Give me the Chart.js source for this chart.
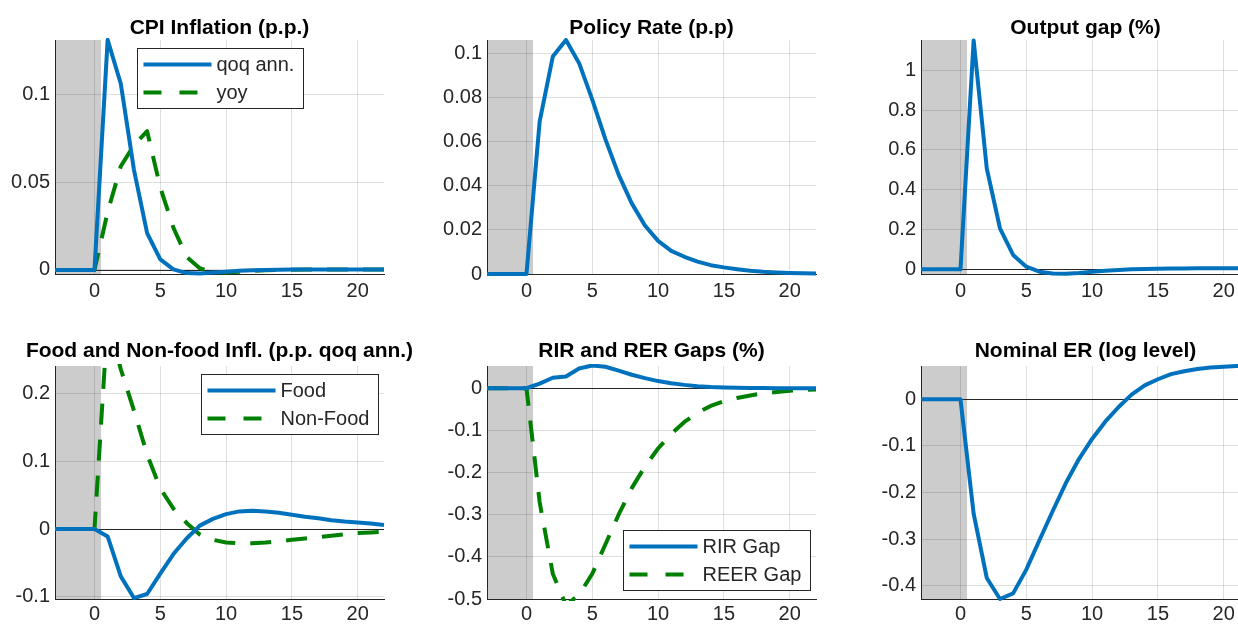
<!DOCTYPE html>
<html>
<head>
<meta charset="utf-8">
<script src="https://cdn.jsdelivr.net/npm/chart.js@4.4.1/dist/chart.umd.min.js"></script>
<style>
  html, body { margin: 0; padding: 0; background: #fff; width: 1238px; height: 627px; overflow: hidden; }
  canvas { position: absolute; }
</style>
</head>
<body>
<canvas id="cpi"    width="439" height="309" style="left:0px;   top:0px"></canvas>
<canvas id="policy" width="439" height="309" style="left:432px; top:0px"></canvas>
<canvas id="gap"    width="439" height="309" style="left:866px; top:0px"></canvas>
<canvas id="food"   width="439" height="308" style="left:0px;   top:326px"></canvas>
<canvas id="rer"    width="439" height="308" style="left:432px; top:326px"></canvas>
<canvas id="ner"    width="439" height="308" style="left:866px; top:326px"></canvas>
<script>
// Quarters after the shock
const periods = [-3, -2, -1, 0, 1, 2, 3, 4, 5, 6, 7, 8, 9, 10, 11, 12, 13, 14, 15, 16, 17, 18, 19, 20, 21, 22];

// Impulse responses
const cpiQoq   = [0, 0, 0, 0, 0.131, 0.106, 0.057, 0.021, 0.006, 0.0003, -0.0018, -0.002, -0.0015, -0.001, -0.0005, -0.0002, 0, 0.0001, 0.0002, 0.0002, 0.0002, 0.0002, 0.0002, 0.0002, 0.0002, 0.0002];
const cpiYoy   = [0, 0, 0, 0, 0.033, 0.059, 0.071, 0.079, 0.047, 0.024, 0.0075, 0.001, -0.0012, -0.0015, -0.001, -0.0006, -0.0002, 0, 0.0001, 0.0002, 0.0002, 0.0002, 0.0002, 0.0002, 0.0002, 0.0002];
const policyRate = [0, 0, 0, 0, 0.069, 0.0985, 0.106, 0.0955, 0.079, 0.061, 0.045, 0.032, 0.022, 0.015, 0.0105, 0.0078, 0.0056, 0.004, 0.003, 0.0022, 0.0015, 0.001, 0.0007, 0.0005, 0.0003, 0.0002];
const outputGap  = [0, 0, 0, 0, 1.15, 0.506, 0.206, 0.072, 0.013, -0.012, -0.021, -0.022, -0.018, -0.012, -0.007, -0.003, 0, 0.002, 0.003, 0.004, 0.0045, 0.005, 0.005, 0.005, 0.005, 0.005];
const foodInfl    = [0, 0, 0, 0, -0.011, -0.070, -0.102, -0.096, -0.066, -0.037, -0.014, 0.005, 0.015, 0.022, 0.026, 0.027, 0.026, 0.024, 0.021, 0.018, 0.016, 0.013, 0.011, 0.0095, 0.008, 0.006];
const nonFoodInfl = [0, 0, 0, 0, 0.31, 0.236, 0.175, 0.11, 0.06, 0.03, 0.009, -0.008, -0.016, -0.020, -0.021, -0.021, -0.020, -0.018, -0.016, -0.014, -0.012, -0.010, -0.008, -0.006, -0.005, -0.004];
const rirGap  = [0, 0, 0, 0, 0.011, 0.025, 0.028, 0.047, 0.054, 0.051, 0.042, 0.032, 0.024, 0.017, 0.012, 0.008, 0.005, 0.003, 0.002, 0.0013, 0.0008, 0.0005, 0.0003, 0.0002, 0.0001, 0.0001];
const reerGap = [0, 0, 0, 0, -0.27, -0.44, -0.515, -0.49, -0.44, -0.37, -0.30, -0.237, -0.186, -0.143, -0.108, -0.080, -0.058, -0.042, -0.031, -0.023, -0.017, -0.012, -0.009, -0.006, -0.004, -0.003];
const nominalER = [0, 0, 0, 0, -0.245, -0.383, -0.428, -0.416, -0.365, -0.302, -0.24, -0.18, -0.128, -0.085, -0.048, -0.017, 0.010, 0.030, 0.043, 0.054, 0.060, 0.065, 0.068, 0.070, 0.0712, 0.0714];

// Tick labels
const xTicks       = [0, 5, 10, 15, 20];
const yTicksCpi    = [0, 0.05, 0.1];
const yTicksPolicy = [0, 0.02, 0.04, 0.06, 0.08, 0.1];
const yTicksGap    = [0, 0.2, 0.4, 0.6, 0.8, 1];
const yTicksFood   = [-0.1, 0, 0.1, 0.2];
const yTicksRer    = [-0.5, -0.4, -0.3, -0.2, -0.1, 0];
const yTicksNer    = [-0.4, -0.3, -0.2, -0.1, 0];

const BLUE = '#0072BD';
const GREEN = '#008000';
const INK = '#262626';
const FONT = '"Liberation Sans", Arial, Helvetica, sans-serif';

// Grey band marking the pre-shock periods
const shadePlugin = {
  id: 'shade',
  beforeDraw(chart, args, opts) {
    const { ctx, chartArea: ca, scales: { x } } = chart;
    const x0 = x.getPixelForValue(opts.from);
    const x1 = x.getPixelForValue(opts.to);
    ctx.save();
    ctx.fillStyle = opts.color;
    ctx.fillRect(x0, ca.top, x1 - x0, ca.bottom - ca.top);
    ctx.restore();
  }
};

// Thin reference line at zero
const zeroLinePlugin = {
  id: 'zeroLine',
  beforeDatasetsDraw(chart) {
    const { ctx, chartArea: ca, scales: { y } } = chart;
    const py = Math.round(y.getPixelForValue(0)) + 0.5;
    ctx.save();
    ctx.strokeStyle = INK;
    ctx.lineWidth = 1;
    ctx.beginPath();
    ctx.moveTo(ca.left, py);
    ctx.lineTo(ca.right, py);
    ctx.stroke();
    ctx.restore();
  }
};

// Boxed legend placed inside the plot area
const boxLegendPlugin = {
  id: 'boxLegend',
  afterDatasetsDraw(chart, args, opts) {
    if (!opts || !opts.loc) return;
    const { ctx, chartArea: ca } = chart;
    const items = chart.data.datasets;
    ctx.save();
    ctx.font = '20px ' + FONT;
    const textW = Math.max(...items.map(d => ctx.measureText(d.label).width));
    const w = Math.round(79 + textW + 9), h = 60;
    let bx, by;
    if (opts.loc === 'north') { bx = (ca.left + ca.right) / 2 - w / 2; by = ca.top + 8; }
    else if (opts.loc === 'northeast') { bx = ca.right - 6 - w; by = ca.top + 8; }
    else { bx = ca.right - 6 - w; by = ca.bottom - 9 - h; }
    bx = Math.round(bx) + 0.5; by = Math.round(by) + 0.5;
    ctx.fillStyle = '#fff';
    ctx.fillRect(bx, by, w, h);
    ctx.strokeStyle = INK;
    ctx.lineWidth = 1;
    ctx.strokeRect(bx, by, w, h);
    items.forEach((d, i) => {
      const cy = by + 16 + i * 28;
      ctx.beginPath();
      ctx.setLineDash(d.borderDash && d.borderDash.length ? [18, 18] : []);
      ctx.strokeStyle = d.borderColor;
      ctx.lineWidth = 4;
      ctx.moveTo(bx + 6, cy);
      ctx.lineTo(bx + 74, cy);
      ctx.stroke();
      ctx.setLineDash([]);
      ctx.fillStyle = INK;
      ctx.textBaseline = 'middle';
      ctx.textAlign = 'left';
      ctx.fillText(d.label, bx + 79, cy + 1);
    });
    ctx.restore();
  }
};

function series(label, values, color, dashed) {
  return {
    label,
    data: periods.map((p, i) => ({ x: p, y: values[i] })),
    borderColor: color,
    backgroundColor: color,
    borderWidth: 4,
    borderDash: dashed ? [21, 15] : [],
    borderJoinStyle: 'round',
    borderCapStyle: 'butt',
    pointRadius: 0,
    pointHoverRadius: 0,
    tension: 0,
    fill: false,
    clip: 2
  };
}

function panel(id, cfg) {
  const tickFont = { family: FONT, size: 20 };
  const gridColor = 'rgba(38,38,38,0.15)';
  new Chart(document.getElementById(id), {
    type: 'line',
    data: { datasets: cfg.datasets },
    plugins: [shadePlugin, zeroLinePlugin, boxLegendPlugin],
    options: {
      responsive: false,
      animation: false,
      events: [],
      layout: { padding: 0 },
      plugins: {
        legend: { display: false },
        tooltip: { enabled: false },
        title: {
          display: true,
          text: cfg.title,
          color: '#000',
          font: { family: FONT, size: 21, weight: 'bold', lineHeight: 1 },
          padding: { top: cfg.titleTop, bottom: 19 - cfg.titleTop }
        },
        shade: { from: -3, to: 0.5, color: '#cccccc' },
        boxLegend: { loc: cfg.legend || null }
      },
      scales: {
        x: {
          type: 'linear',
          min: -3,
          max: 22,
          afterBuildTicks: s => { s.ticks = xTicks.map(v => ({ value: v })); },
          afterFit: s => { s.height = 35; },
          ticks: { callback: v => String(v), padding: cfg.xPad, color: INK, font: tickFont, maxRotation: 0, autoSkip: false },
          grid: { color: gridColor, drawTicks: false },
          border: { color: INK, width: 1 }
        },
        y: {
          type: 'linear',
          min: cfg.yMin,
          max: cfg.yMax,
          afterBuildTicks: s => { s.ticks = cfg.yTicks.map(v => ({ value: v })); },
          afterFit: s => { s.width = 55; },
          ticks: { callback: v => String(v), padding: 5, color: INK, font: tickFont, autoSkip: false },
          grid: { color: gridColor, drawTicks: false },
          border: { color: INK, width: 1 }
        },
        // empty right-hand margin, keeps each title centred over its plot
        margin: {
          type: 'linear',
          position: 'right',
          min: 0,
          max: 1,
          afterFit: s => { s.width = 55; },
          ticks: { display: false },
          grid: { display: false, drawTicks: false },
          border: { display: false }
        }
      }
    }
  });
}

panel('cpi', {
  title: 'CPI Inflation (p.p.)', titleTop: 18, xPad: 5, legend: 'north',
  yMin: -0.0023, yMax: 0.1309, yTicks: yTicksCpi,
  datasets: [series('qoq ann.', cpiQoq, BLUE, false), series('yoy', cpiYoy, GREEN, true)]
});
panel('policy', {
  title: 'Policy Rate (p.p)', titleTop: 18, xPad: 5,
  yMin: 0, yMax: 0.106, yTicks: yTicksPolicy,
  datasets: [series('Policy rate', policyRate, BLUE, false)]
});
panel('gap', {
  title: 'Output gap (%)', titleTop: 18, xPad: 5,
  yMin: -0.0236, yMax: 1.152, yTicks: yTicksGap,
  datasets: [series('Output gap', outputGap, BLUE, false)]
});
panel('food', {
  title: 'Food and Non-food Infl. (p.p. qoq ann.)', titleTop: 15, xPad: 3, legend: 'northeast',
  yMin: -0.1034, yMax: 0.2408, yTicks: yTicksFood,
  datasets: [series('Food', foodInfl, BLUE, false), series('Non-Food', nonFoodInfl, GREEN, true)]
});
panel('rer', {
  title: 'RIR and RER Gaps (%)', titleTop: 15, xPad: 3, legend: 'southeast',
  yMin: -0.5, yMax: 0.0528, yTicks: yTicksRer,
  datasets: [series('RIR Gap', rirGap, BLUE, false), series('REER Gap', reerGap, GREEN, true)]
});
panel('ner', {
  title: 'Nominal ER (log level)', titleTop: 15, xPad: 3,
  yMin: -0.428, yMax: 0.0714, yTicks: yTicksNer,
  datasets: [series('Nominal ER', nominalER, BLUE, false)]
});
</script>
</body>
</html>
